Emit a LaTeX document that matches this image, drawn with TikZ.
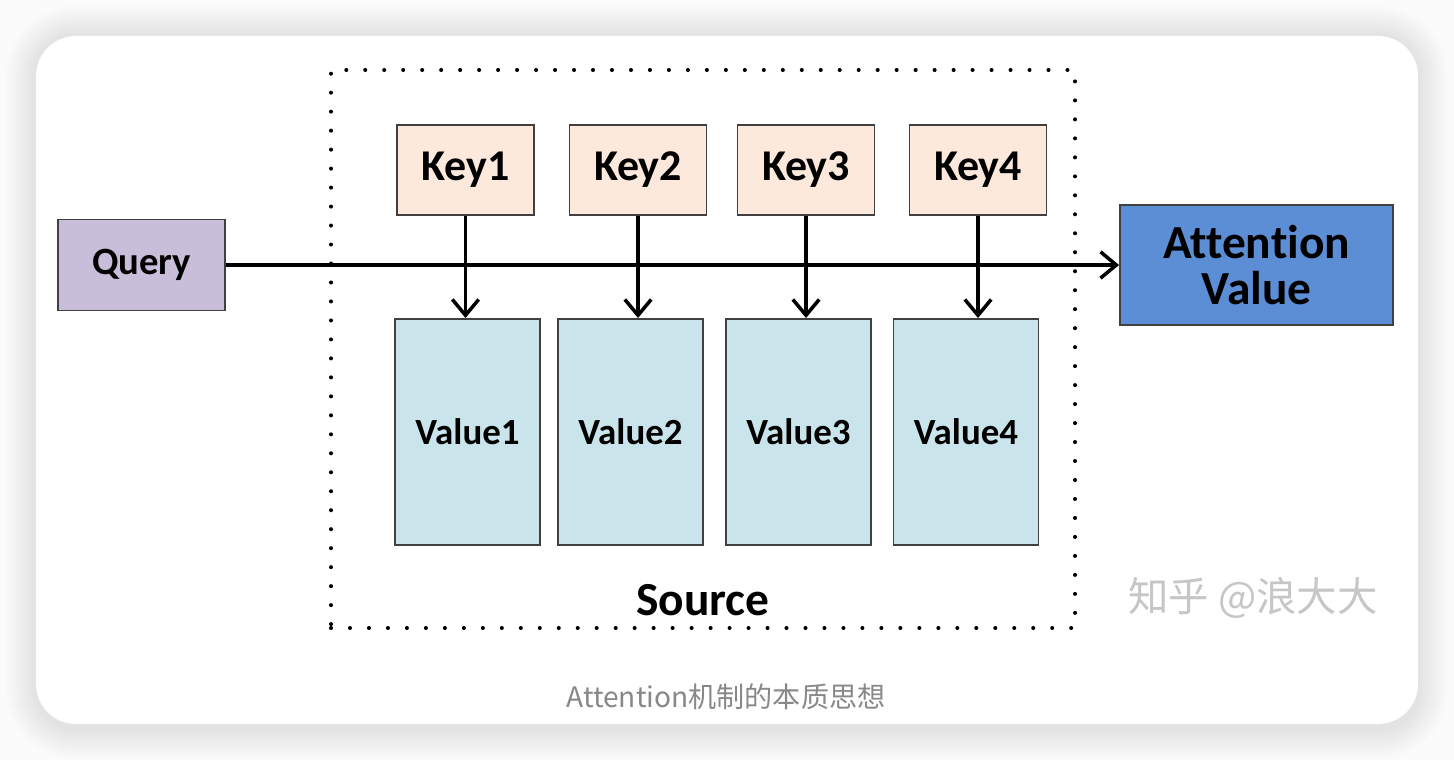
\documentclass[tikz,border=0pt]{standalone}
\usepackage{fontspec}
\setmainfont{Carlito}[Ligatures=NoCommon]
\newfontfamily\cjkfont{Noto Sans CJK SC}
\usetikzlibrary{arrows.meta,calc,positioning}
\definecolor{querybg}{RGB}{200,190,218}
\definecolor{keybg}{RGB}{252,233,219}
\definecolor{valuebg}{RGB}{201,228,234}
\definecolor{attnbg}{RGB}{92,142,214}
\definecolor{edgegray}{RGB}{64,64,64}
\definecolor{capgray}{RGB}{136,136,136}
\tikzset{
  link/.style={line width=2pt, draw=black, -{Straight Barb[length=9pt,width=15pt]}},
  box/.style={draw=edgegray, line width=1.1pt, rectangle, inner sep=0pt, align=center},
  querybox/.style={box, fill=querybg, minimum width=3.34cm, minimum height=1.82cm,
    font=\fontsize{22}{24}\selectfont\bfseries},
  keybox/.style={box, fill=keybg, minimum width=2.74cm, minimum height=1.8cm,
    font=\fontsize{25}{26}\selectfont\bfseries},
  valuebox/.style={box, fill=valuebg, minimum width=2.9cm, minimum height=4.52cm,
    font=\fontsize{21}{24}\selectfont\bfseries},
  attnbox/.style={box, fill=attnbg, minimum width=5.46cm, minimum height=2.4cm,
    font=\fontsize{27}{26}\selectfont\bfseries},
  source/.style={draw=black, line width=2.3pt, line cap=round, dash pattern=on 0pt off 10.8pt},
  label/.style={font=\fontsize{27}{28}\selectfont\bfseries}
}
\begin{document}
\begin{tikzpicture}
  \useasboundingbox (0,0) rectangle (29.08,15.2);
  % page and card
  \fill[gray!3] (0,0) rectangle (29.08,15.2);
  \foreach \i in {1,...,12}
    \fill[black, opacity=0.009, rounded corners=0.8cm+\i*0.05cm]
      (0.72-\i*0.05,0.62-\i*0.05) rectangle (28.36+\i*0.05,14.48+\i*0.05);
  \fill[white, rounded corners=0.8cm] (0.72,0.72) rectangle (28.36,14.48);

  \node[source, minimum width=14.88cm, minimum height=11.16cm] (src) at (14.06,8.22) {};
  \node[label] (srclabel) at (14.06,3.2) {Source};

  \node[querybox] (query) at (2.83,9.9) {Query};
  \node[attnbox] (attn) at (25.13,9.9) {Attention\\Value};

  \node[keybox] (k1) at (9.31,11.8) {Key1};
  \node[keybox] (k2) at (12.76,11.8) {Key2};
  \node[keybox] (k3) at (16.12,11.8) {Key3};
  \node[keybox] (k4) at (19.56,11.8) {Key4};

  \node[valuebox] (v1) at (9.35,6.56) {Value1};
  \node[valuebox] (v2) at (12.61,6.56) {Value2};
  \node[valuebox] (v3) at (15.97,6.56) {Value3};
  \node[valuebox] (v4) at (19.32,6.56) {Value4};

  \draw[link] (query) -- (attn);
  \draw[link] (k1) -- (k1 |- v1.north);
  \draw[link] (k2) -- (k2 |- v2.north);
  \draw[link] (k3) -- (k3 |- v3.north);
  \draw[link] (k4) -- (k4 |- v4.north);

  \node[font=\cjkfont\fontsize{23}{24}\selectfont, text=gray!45] (mark) at (25.06,3.24) {知乎 @浪大大};
  \node[font=\cjkfont\fontsize{16}{18}\selectfont, text=capgray] (caption) at (14.52,1.26) {Attention机制的本质思想};
\end{tikzpicture}
\end{document}
